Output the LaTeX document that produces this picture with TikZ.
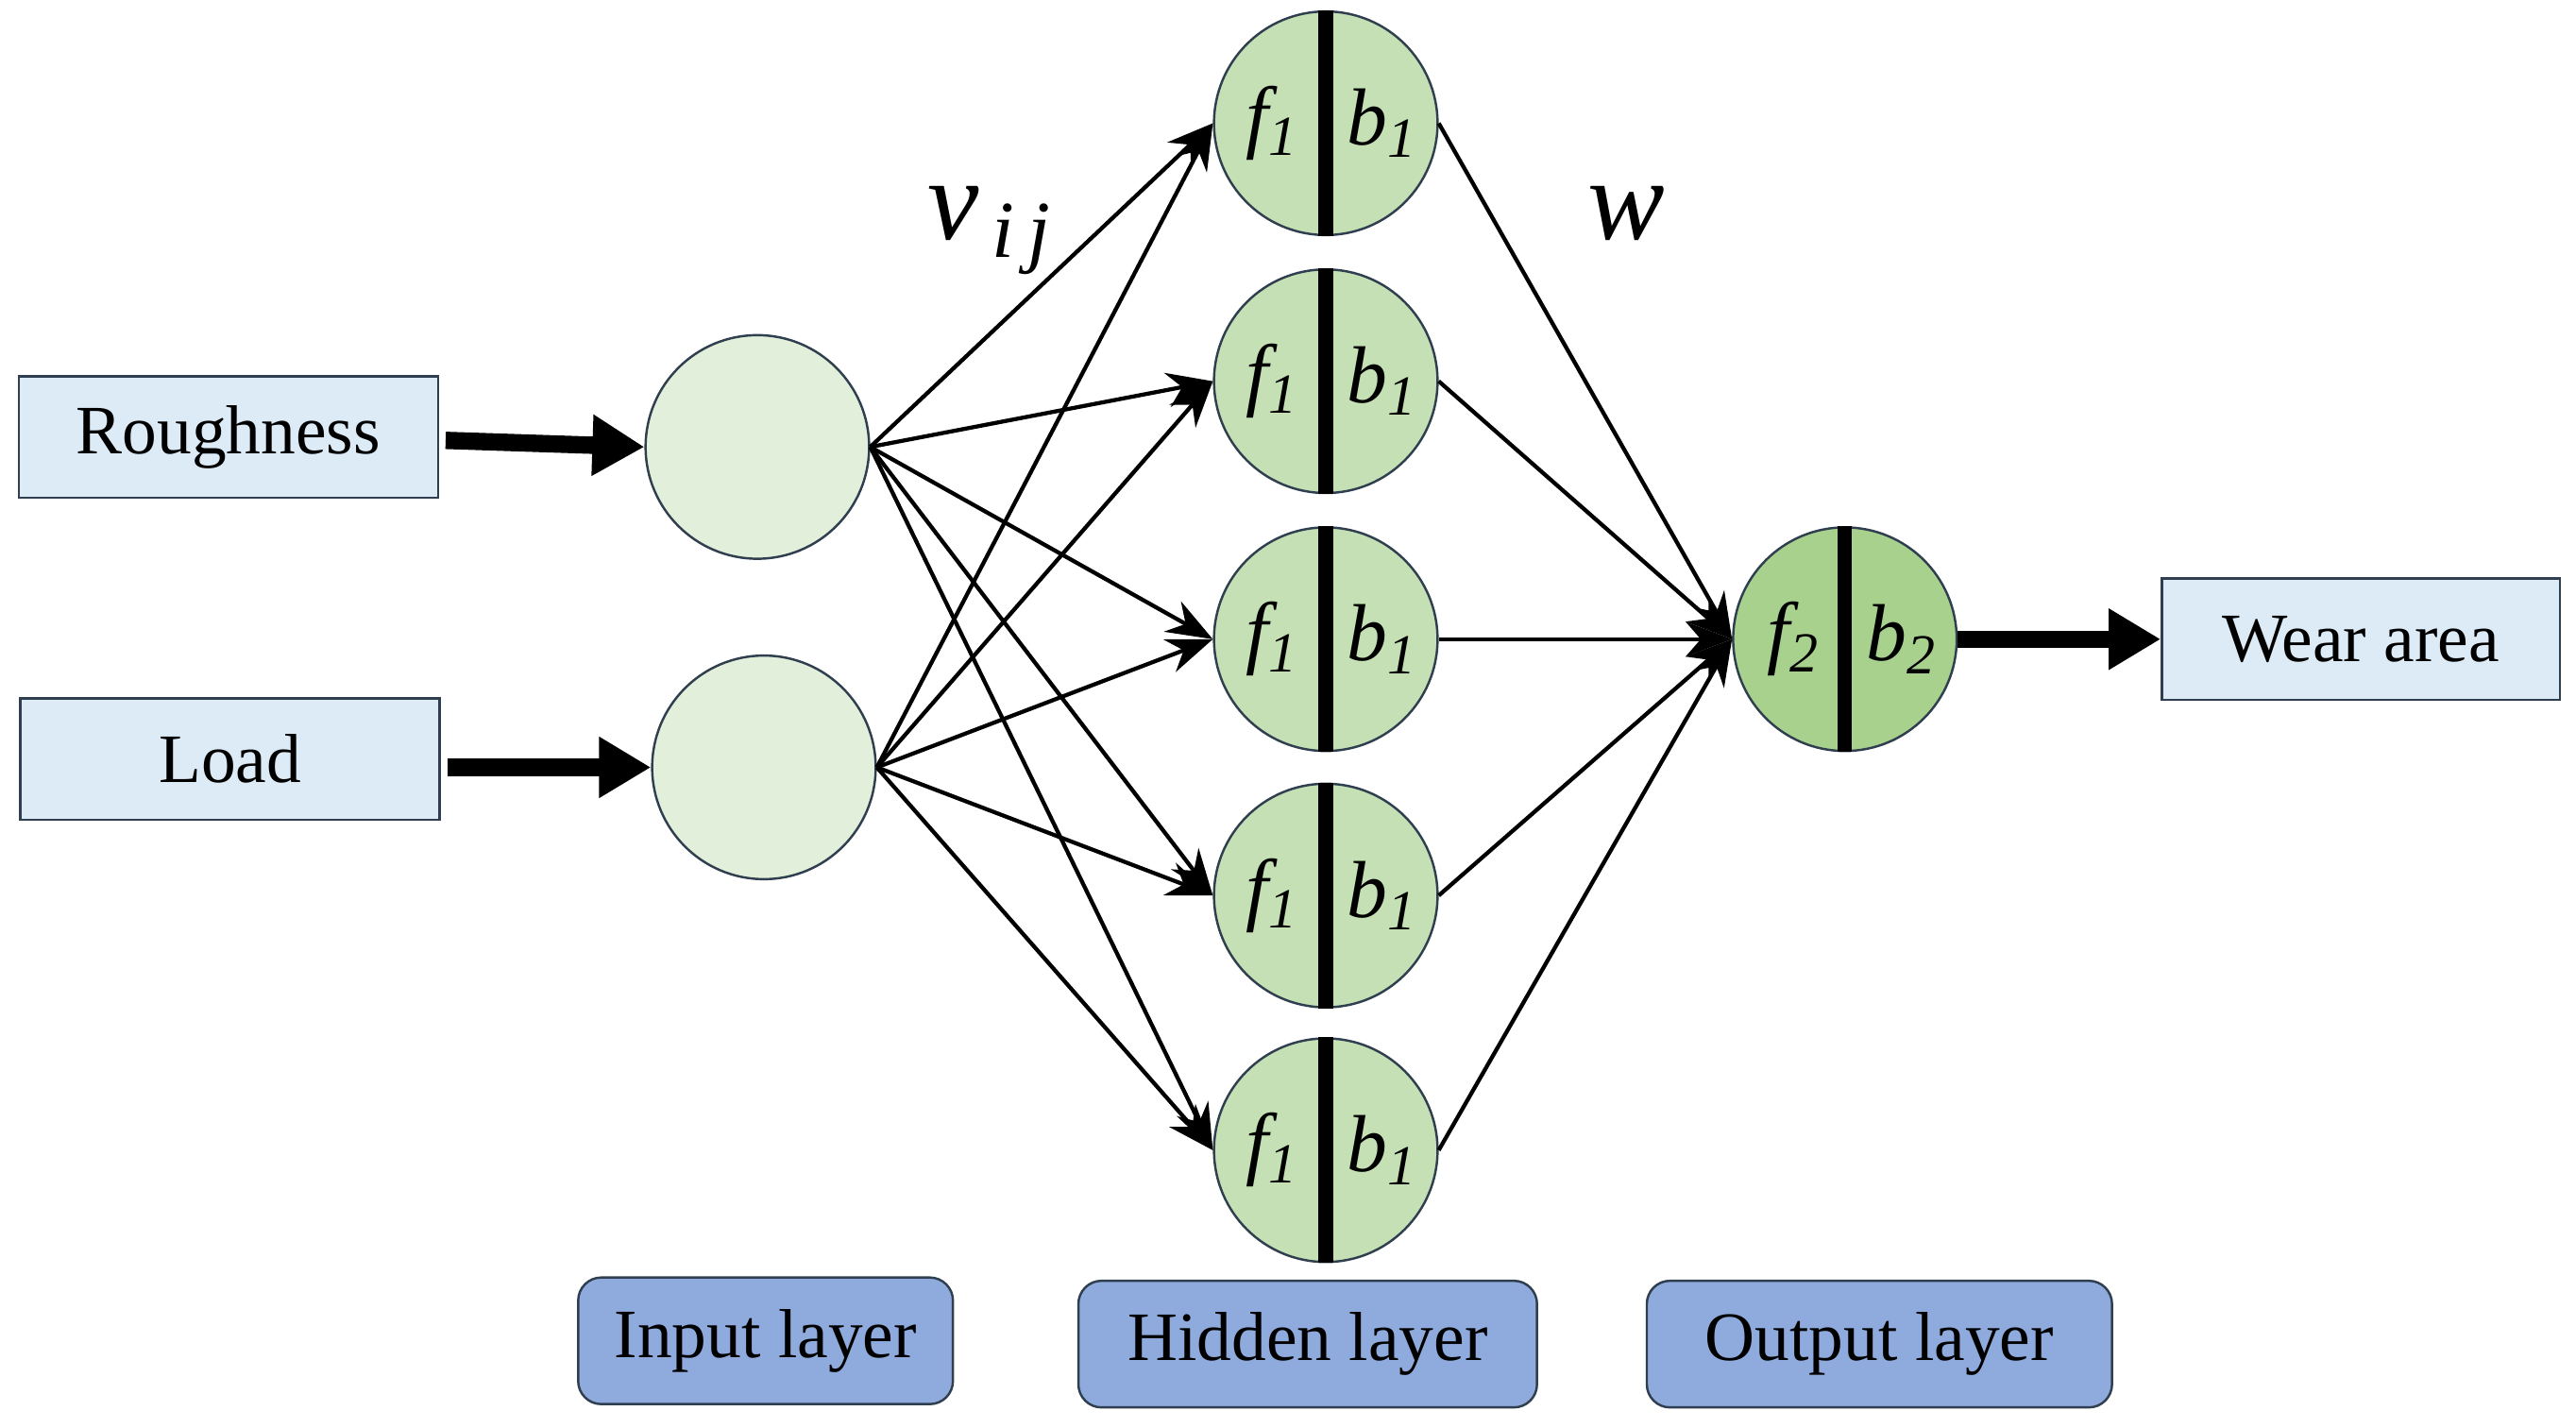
\documentclass[tikz,border=0pt]{standalone}
\usepackage{fontspec}
\setmainfont{Liberation Serif}
\usetikzlibrary{arrows.meta}
\definecolor{inbox}{HTML}{DDEBF7}
\definecolor{layerbox}{HTML}{8FAADC}
\definecolor{ingreen}{HTML}{E2EFDA}
\definecolor{hidgreen}{HTML}{C5E0B4}
\definecolor{outgreen}{HTML}{A9D18E}
\definecolor{edge}{HTML}{2F3F4F}
\begin{document}
\begin{tikzpicture}[x=0.01cm,y=-0.01cm,
  io/.style={draw=edge,fill=inbox,minimum width=2.55cm,minimum height=0.74cm,font=\fontsize{12}{14}\selectfont,inner sep=0},
  lay/.style={draw=edge,fill=layerbox,rounded corners=4pt,minimum height=0.77cm,font=\fontsize{12}{14}\selectfont,inner sep=0},
  neu/.style={draw=edge,ellipse,minimum width=1.4cm,minimum height=1.32cm,inner sep=0,thin},
  conn/.style={-{Stealth[length=8pt,width=6pt]},line width=0.7pt},
  thick arrow/.style={-{Triangle[length=9pt,width=10pt]},line width=3pt},
  lbl/.style={font=\itshape\fontsize{14}{16}\selectfont}]
\usetikzlibrary{shapes.geometric}
\useasboundingbox (0,0) rectangle (1568,869);
\node[io] (rough) at (139,266) {Roughness};
\node[io] (load) at (140,462) {Load};
\node[io,minimum width=2.42cm] (wear) at (1437,389) {Wear area};
\node[draw=edge,fill=ingreen,circle,minimum size=1.36cm,inner sep=0] (i1) at (461,272) {};
\node[draw=edge,fill=ingreen,circle,minimum size=1.36cm,inner sep=0] (i2) at (465,467) {};
\foreach \k/\y in {1/75,2/232,3/389,4/545,5/700}{
  \node[draw=edge,fill=hidgreen,circle,minimum size=1.36cm,inner sep=0] (h\k) at (807,\y) {};
  \draw[line width=2.5pt] (h\k.north) -- (h\k.south);
  \node[lbl] at (775,\y) {f\textsubscript{1}};
  \node[lbl] at (842,\y) {b\textsubscript{1}};
}
\node[draw=edge,fill=outgreen,circle,minimum size=1.36cm,inner sep=0] (o) at (1123,389) {};
\draw[line width=2.5pt] (o.north) -- (o.south);
\node[lbl] at (1092,389) {f\textsubscript{2}};
\node[lbl] at (1158,389) {b\textsubscript{2}};
\draw[thick arrow] (rough.east)++(4,2) -- (i1.west);
\draw[thick arrow] (load.east)++(4,5) -- (i2.west);
\draw[thick arrow] (o.east) -- (wear.west);
\foreach \i in {1,2}{\foreach \k in {1,...,5}{\draw[conn] (i\i.east) -- (h\k.west);}}
\foreach \k in {1,...,5}{\draw[conn] (h\k.east) -- (o.west);}
\node[font=\itshape\fontsize{20}{22}\selectfont] (v) at (603,140) {v\textsubscript{\,i\,j}};
\node[font=\itshape\fontsize{20}{22}\selectfont] (w) at (990,130) {w};
\node[lay,minimum width=2.28cm] (il) at (466,816) {Input layer};
\node[lay,minimum width=2.79cm] (hl) at (796,818) {Hidden layer};
\node[lay,minimum width=2.83cm] (ol) at (1144,818) {Output layer};
\end{tikzpicture}
\end{document}
